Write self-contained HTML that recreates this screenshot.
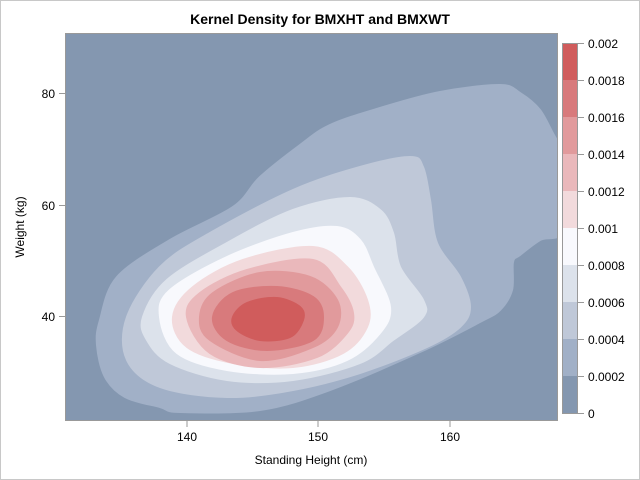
<!DOCTYPE html>
<html><head><style>body{margin:0;background:#fff}svg{display:block;font-family:"Liberation Sans",Arial,sans-serif}</style></head><body>
<svg width="640" height="480" viewBox="0 0 640 480">
<rect x="0.5" y="0.5" width="639" height="479" fill="#fff" stroke="#c8c8c8"/>
<text x="320" y="24" text-anchor="middle" font-size="14" font-weight="bold">Kernel Density for BMXHT and BMXWT</text>
<defs><clipPath id="c"><rect x="65" y="33" width="492" height="387"/></clipPath></defs>
<g clip-path="url(#c)" stroke-linejoin="round" id="g">
<rect x="65" y="33" width="492" height="387" fill="#8497B0"/>
<polygon class="s" fill="#A1B0C7" stroke="#A1B0C7" stroke-width="2" points="160,407 125,397 105,377 97,345 100,320 117,277 170,240 233,207 260,177 300,145 330,125 380,108 440,92 500,85 520,93 540,110 557,140 565,140 565,227 540,240 520,255 513,262 512,290 500,310 480,322 420,352 330,390 260,410 180,412"/>
<polygon class="s" fill="#BFC8D8" stroke="#BFC8D8" stroke-width="2" points="127,317 160,267 210,233 293,190 360,167 410,157 423,167 430,200 437,243 460,277 470,307 460,327 427,347 360,373 293,390 227,397 160,387 127,360"/>
<polygon class="s" fill="#DCE2EB" stroke="#DCE2EB" stroke-width="2" points="143,317 167,280 227,243 293,210 350,198 380,210 393,233 400,267 423,300 423,317 393,340 360,363 293,380 227,380 170,363 147,340"/>
<polygon class="s" fill="#F8F9FD" stroke="#F8F9FD" stroke-width="2" points="160,317 170,290 227,257 293,233 337,227 360,240 373,267 390,307 380,333 347,360 293,373 227,370 177,353"/>
<polygon class="s" fill="#F2DADC" stroke="#F2DADC" stroke-width="2" points="173,317 193,287 243,260 313,247 347,267 367,300 367,327 343,353 293,367 233,363 187,347"/>
<polygon class="s" fill="#EAB8BB" stroke="#EAB8BB" stroke-width="2" points="187,317 200,293 247,270 313,260 340,287 353,313 347,333 317,357 260,367 210,353"/>
<polygon class="s" fill="#E19A9C" stroke="#E19A9C" stroke-width="2" points="200,317 213,293 260,273 310,277 337,300 337,327 313,347 260,360 210,340"/>
<polygon class="s" fill="#D87A7C" stroke="#D87A7C" stroke-width="2" points="213,317 233,293 277,287 313,297 323,317 313,340 267,350 227,340"/>
<polygon class="s" fill="#D05C5C" stroke="#D05C5C" stroke-width="2" points="233,317 247,303 277,298 300,307 303,320 290,337 260,340 237,330"/>
</g>
<rect x="65.5" y="33.5" width="492" height="387" fill="none" stroke="#999"/>
<g stroke="#999">
<line x1="187" y1="421" x2="187" y2="427"/><line x1="318" y1="421" x2="318" y2="427"/><line x1="450" y1="421" x2="450" y2="427"/>
<line x1="59" y1="93.5" x2="65" y2="93.5"/><line x1="59" y1="205.5" x2="65" y2="205.5"/><line x1="59" y1="316.5" x2="65" y2="316.5"/>
</g>
<g font-size="12" fill="#000">
<text x="187" y="441" text-anchor="middle">140</text><text x="318" y="441" text-anchor="middle">150</text><text x="450" y="441" text-anchor="middle">160</text>
<text x="55" y="98" text-anchor="end">80</text><text x="55" y="210" text-anchor="end">60</text><text x="55" y="321" text-anchor="end">40</text>
<text x="311" y="464" text-anchor="middle">Standing Height (cm)</text>
<text transform="translate(24,227) rotate(-90)" text-anchor="middle">Weight (kg)</text>
</g>
<g>
<rect x="562" y="376" width="15" height="37" fill="#8497B0"/>
<rect x="562" y="339" width="15" height="37" fill="#A1B0C7"/>
<rect x="562" y="302" width="15" height="37" fill="#BFC8D8"/>
<rect x="562" y="265" width="15" height="37" fill="#DCE2EB"/>
<rect x="562" y="228" width="15" height="37" fill="#F8F9FD"/>
<rect x="562" y="191" width="15" height="37" fill="#F2DADC"/>
<rect x="562" y="154" width="15" height="37" fill="#EAB8BB"/>
<rect x="562" y="117" width="15" height="37" fill="#E19A9C"/>
<rect x="562" y="80" width="15" height="37" fill="#D87A7C"/>
<rect x="562" y="43" width="15" height="37" fill="#D05C5C"/>
<rect x="562.5" y="43.5" width="15" height="370" fill="none" stroke="#999"/>
<g stroke="#999"><line x1="577" y1="43.5" x2="584" y2="43.5"/><line x1="577" y1="80.5" x2="584" y2="80.5"/><line x1="577" y1="117.5" x2="584" y2="117.5"/><line x1="577" y1="154.5" x2="584" y2="154.5"/><line x1="577" y1="191.5" x2="584" y2="191.5"/><line x1="577" y1="228.5" x2="584" y2="228.5"/><line x1="577" y1="265.5" x2="584" y2="265.5"/><line x1="577" y1="302.5" x2="584" y2="302.5"/><line x1="577" y1="339.5" x2="584" y2="339.5"/><line x1="577" y1="376.5" x2="584" y2="376.5"/><line x1="577" y1="413.5" x2="584" y2="413.5"/></g>
<g font-size="12" fill="#000">
<text x="588" y="48">0.002</text><text x="588" y="85">0.0018</text><text x="588" y="122">0.0016</text><text x="588" y="159">0.0014</text><text x="588" y="196">0.0012</text><text x="588" y="233">0.001</text><text x="588" y="270">0.0008</text><text x="588" y="307">0.0006</text><text x="588" y="344">0.0004</text><text x="588" y="381">0.0002</text><text x="588" y="418">0</text>
</g>
</g>
</svg>
<script>
document.querySelectorAll('polygon.s').forEach(function(pg){
  var p=pg.getAttribute('points').trim().split(/\s+/).map(function(s){return s.split(',').map(Number)});
  var n=p.length,d='M'+p[0][0]+','+p[0][1];
  for(var i=0;i<n;i++){
    var p0=p[(i-1+n)%n],p1=p[i],p2=p[(i+1)%n],p3=p[(i+2)%n];
    var c1=[p1[0]+(p2[0]-p0[0])/6,p1[1]+(p2[1]-p0[1])/6],c2=[p2[0]-(p3[0]-p1[0])/6,p2[1]-(p3[1]-p1[1])/6];
    d+='C'+c1[0].toFixed(1)+','+c1[1].toFixed(1)+' '+c2[0].toFixed(1)+','+c2[1].toFixed(1)+' '+p2[0]+','+p2[1];
  }
  var path=document.createElementNS('http://www.w3.org/2000/svg','path');
  path.setAttribute('d',d+'Z');
  ['fill','stroke','stroke-width'].forEach(function(a){path.setAttribute(a,pg.getAttribute(a))});
  pg.parentNode.replaceChild(path,pg);
});
</script>
</body></html>
